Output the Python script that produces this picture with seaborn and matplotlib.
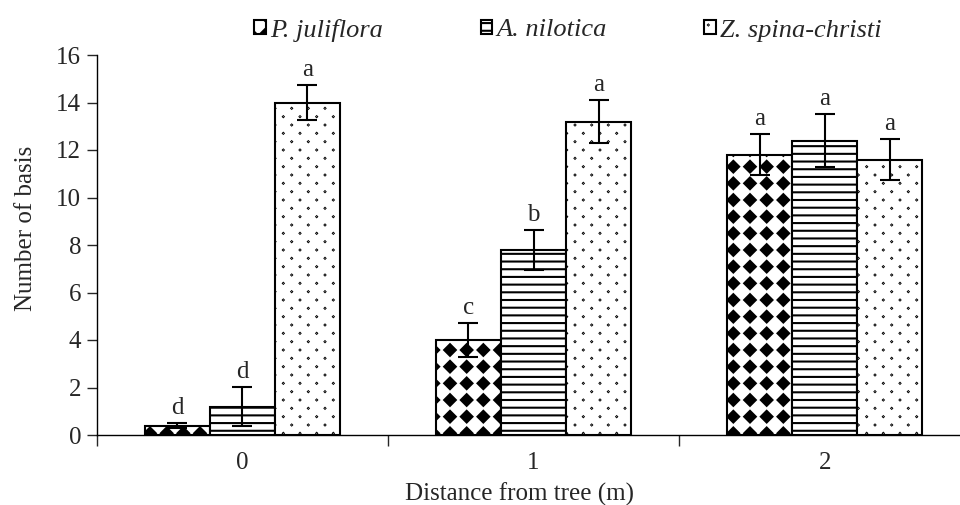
import numpy as np
import pandas as pd
import matplotlib
matplotlib.use('Agg')
import matplotlib.pyplot as plt
import matplotlib.hatch as mhatch
from matplotlib.path import Path
import seaborn as sns

# data
distances = ['0', '1', '2']
species = ['P. juliflora', 'A. nilotica', 'Z. spina-christi']
juliflora_mean = [0.4, 4.0, 11.8]
nilotica_mean = [1.2, 7.8, 12.4]
spina_mean = [14.0, 13.2, 11.6]
juliflora_err = [0.12, 0.7, 0.87]
nilotica_err = [0.83, 0.85, 1.1]
spina_err = [0.75, 0.9, 0.87]
juliflora_letters = ['d', 'c', 'a']
nilotica_letters = ['d', 'b', 'a']
spina_letters = ['a', 'a', 'a']


# custom hatch textures (Excel-like): filled diamonds, horizontal lines, dots
def diamond(h):
    return np.array([[0, -h], [h, 0], [0, h], [-h, 0], [0, -h]])


DIAMOND_CODES = [Path.MOVETO, Path.LINETO, Path.LINETO, Path.LINETO, Path.CLOSEPOLY]


class DiamondHatch(mhatch.HatchPatternBase):
    def __init__(self, hatch, density):
        self.n = 6 if 'x' in hatch else 0
        self.num_vertices = (self.n + 1) ** 2 * 5 if self.n else 0

    def set_vertices_and_codes(self, vertices, codes):
        n = self.n
        shape = diamond(0.35 / n)
        parts = [shape + [i / n, j / n] for i in range(n + 1) for j in range(n + 1)]
        vertices[:] = np.concatenate(parts)
        codes[:] = np.tile(DIAMOND_CODES, (n + 1) ** 2)


class LineHatch(mhatch.HatchPatternBase):
    def __init__(self, hatch, density):
        self.n = 13 if '-' in hatch else 0
        self.num_vertices = (self.n + 1) * 2 if self.n else 0

    def set_vertices_and_codes(self, vertices, codes):
        ys = np.linspace(0, 1, self.n + 1)
        vertices[0::2, 0] = 0
        vertices[1::2, 0] = 1
        vertices[0::2, 1] = ys
        vertices[1::2, 1] = ys
        codes[0::2] = Path.MOVETO
        codes[1::2] = Path.LINETO


class DotHatch(mhatch.HatchPatternBase):
    def __init__(self, hatch, density):
        self.n = 6 if '.' in hatch else 0
        count = (self.n + 1) ** 2 + self.n ** 2
        self.num_vertices = count * 5 if self.n else 0

    def set_vertices_and_codes(self, vertices, codes):
        n = self.n
        pts = [(i / n, j / n) for i in range(n + 1) for j in range(n + 1)]
        pts += [((i + 0.5) / n, (j + 0.5) / n) for i in range(n) for j in range(n)]
        shape = diamond(0.003)
        vertices[:] = np.concatenate([shape + p for p in pts])
        codes[:] = np.tile(DIAMOND_CODES, len(pts))


mhatch._hatch_types[:] = [DiamondHatch, LineHatch, DotHatch]

df = pd.DataFrame({
    'Distance': distances * 3,
    'Species': np.repeat(species, 3),
    'Count': juliflora_mean + nilotica_mean + spina_mean,
})

sns.set_style('ticks')
plt.rcParams['font.family'] = ['Liberation Serif', 'DejaVu Serif']
plt.rcParams['hatch.linewidth'] = 1.5
plt.rcParams['hatch.color'] = 'black'

fig = plt.figure(figsize=(9.6, 5.05), dpi=100)
ax = fig.add_axes([96.5 / 960, 70 / 505, 874 / 960, 380 / 505])

sns.barplot(data=df, x='Distance', y='Count', hue='Species', palette=['white'] * 3,
            saturation=1, edgecolor='black', linewidth=1.5, width=0.67,
            errorbar=None, legend=False, ax=ax)

bar_containers = list(ax.containers)
hatches = ['x', '-', '.']
errs = [juliflora_err, nilotica_err, spina_err]
letters = [juliflora_letters, nilotica_letters, spina_letters]
for cont, hatch, err, lets in zip(bar_containers, hatches, errs, letters):
    for bar, e, let in zip(cont, err, lets):
        bar.set_hatch(hatch)
        x = bar.get_x() + bar.get_width() / 2
        h = bar.get_height()
        ax.errorbar(x, h, yerr=e, color='black', elinewidth=1.5, capsize=7,
                    capthick=1.5, zorder=5)
        ax.annotate(let, (x, h + e), xytext=(0, 6.5), textcoords='offset points',
                    ha='center', va='baseline', fontsize=18)

ax.set_ylim(0, 16)
ax.set_yticks(range(0, 17, 2))
ax.set_xlim(-0.5, 2.5)
ax.set_xticks([-0.5, 0.5, 1.5, 2.5])
ax.set_xticklabels([])
ax.set_xticks([0, 1, 2], minor=True)
ax.set_xticklabels(distances, minor=True)
ax.tick_params(axis='x', which='major', length=8, width=1, direction='out')
ax.tick_params(axis='x', which='minor', length=0, pad=12, labelsize=18)
ax.tick_params(axis='y', length=7, width=1, labelsize=18, pad=4)
for s in ['left', 'bottom']:
    ax.spines[s].set_linewidth(1)
    ax.spines[s].set_color('black')
sns.despine(ax=ax)

ax.set_xlabel('Distance from tree (m)', fontsize=18)
ax.set_ylabel('Number of basis', fontsize=18)
ax.xaxis.set_label_coords(0.484, -0.125)
ax.yaxis.set_label_coords(-0.068, 0.545)

ax.legend(bar_containers, species, loc='center', bbox_to_anchor=(568 / 960, 1 - 30 / 505),
          bbox_transform=fig.transFigure, ncol=3, frameon=False,
          prop={'style': 'italic', 'size': 19}, handlelength=0.45, handleheight=0.45,
          handletextpad=0.15, columnspacing=3.7)

fig.savefig('out.png', dpi=100)
